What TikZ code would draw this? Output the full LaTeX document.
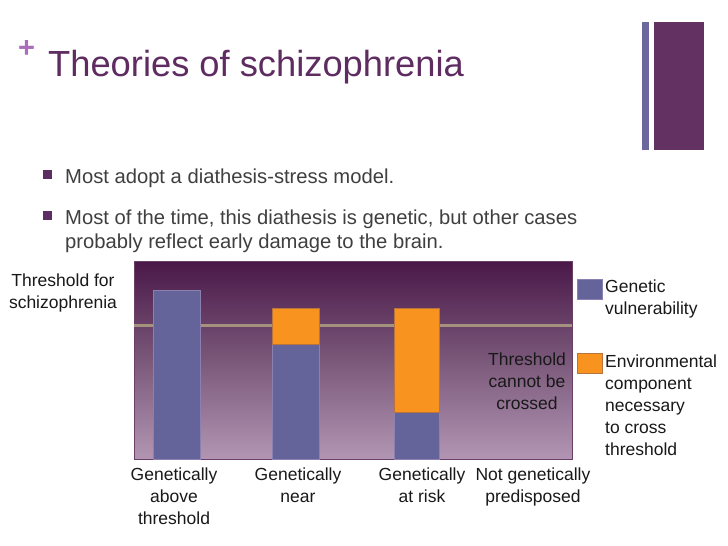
\documentclass[tikz,border=0pt]{standalone}
\usepackage{fontspec}
\setmainfont{Liberation Sans}
\definecolor{titlec}{HTML}{5E2C60}
\definecolor{plusc}{HTML}{A96DBA}
\definecolor{bodyc}{HTML}{3F3F3F}
\definecolor{bulletc}{HTML}{5E2E62}
\definecolor{thinbarc}{HTML}{6A689C}
\definecolor{bigbarc}{HTML}{633262}
\definecolor{gvc}{HTML}{64639A}
\definecolor{gvedge}{HTML}{8A80B2}
\definecolor{envc}{HTML}{F7931E}
\definecolor{envedge}{HTML}{B8743C}
\definecolor{chtop}{HTML}{4A1848}
\definecolor{chmid}{HTML}{7A587A}
\definecolor{chbot}{HTML}{B295B3}
\definecolor{chedge}{HTML}{6A3F6A}
\definecolor{threshc}{HTML}{A4927F}
\tikzset{
  bodytext/.style={anchor=base west, inner sep=0pt, text=bodyc, font=\fontsize{20.2}{24}\selectfont},
  bulletsq/.style={fill=bulletc},
  chartlbl/.style={anchor=base, inner sep=0pt, align=center, text=black!90, font=\fontsize{17.5}{22}\selectfont},
  legendlbl/.style={anchor=base west, inner sep=0pt, align=left, text=black!90, font=\fontsize{17.5}{22}\selectfont},
  gvbar/.style={fill=gvc, draw=gvedge, line width=0.8pt},
  envbar/.style={fill=envc, draw=envedge, line width=0.8pt},
}
\begin{document}
\begin{tikzpicture}[x=1pt,y=-1pt]
\useasboundingbox (0,0) rectangle (728,546);
\fill[white] (0,0) rectangle (728,546);
% side decoration
\fill[thinbarc] (642,22) rectangle (649,150);
\fill[bigbarc] (654,22) rectangle (704,150);
% title
\node[anchor=base west, inner sep=0pt, text=plusc, font=\fontsize{29}{29}\bfseries] (plus) at (18,57) {+};
\node[anchor=base west, inner sep=0pt, text=titlec, font=\fontsize{36.3}{40}\selectfont] (title) at (48,76) {Theories of schizophrenia};
% bullets
\fill[bulletsq] (43,170) rectangle (52,179);
\node[bodytext] (b1) at (65,183) {Most adopt a diathesis-stress model.};
\fill[bulletsq] (43,211) rectangle (52,220);
\node[bodytext] (b2a) at (65,224) {Most of the time, this diathesis is genetic, but other cases};
\node[bodytext] (b2b) at (65,248) {probably reflect early damage to the brain.};
% chart background
\shade[top color=chtop, bottom color=chbot, middle color=chmid] (134,261) rectangle (572,459);
\draw[chedge, line width=0.8pt] (134,261) rectangle (572,459);
% threshold line
\draw[threshc, line width=3pt] (134,325) -- (572,325);
% bars
\filldraw[gvbar] (153,290) rectangle (200,459);
\filldraw[gvbar] (272,344) rectangle (319,459);
\filldraw[envbar] (272,308) rectangle (319,344);
\filldraw[gvbar] (394,412) rectangle (439,459);
\filldraw[envbar] (394,308) rectangle (439,412);
% labels in/around chart (base anchor = last line's baseline)
\node[chartlbl] (thr) at (63,308) {Threshold for\\schizophrenia};
\node[chartlbl] (cannot) at (527,409) {Threshold\\cannot be\\crossed};
% legend
\filldraw[gvbar] (577,279) rectangle (602,299);
\node[legendlbl] (lg1) at (605,314) {Genetic\\vulnerability};
\filldraw[envbar] (577,353) rectangle (602,373);
\node[legendlbl] (lg2) at (605,455) {Environmental\\component\\necessary\\to cross\\threshold};
% category labels
\node[chartlbl] (c1) at (174,524) {Genetically\\above\\threshold};
\node[chartlbl] (c2) at (298,502) {Genetically\\near};
\node[chartlbl] (c3) at (422,502) {Genetically\\at risk};
\node[chartlbl] (c4) at (533,502) {Not genetically\\predisposed};
\end{tikzpicture}
\end{document}
